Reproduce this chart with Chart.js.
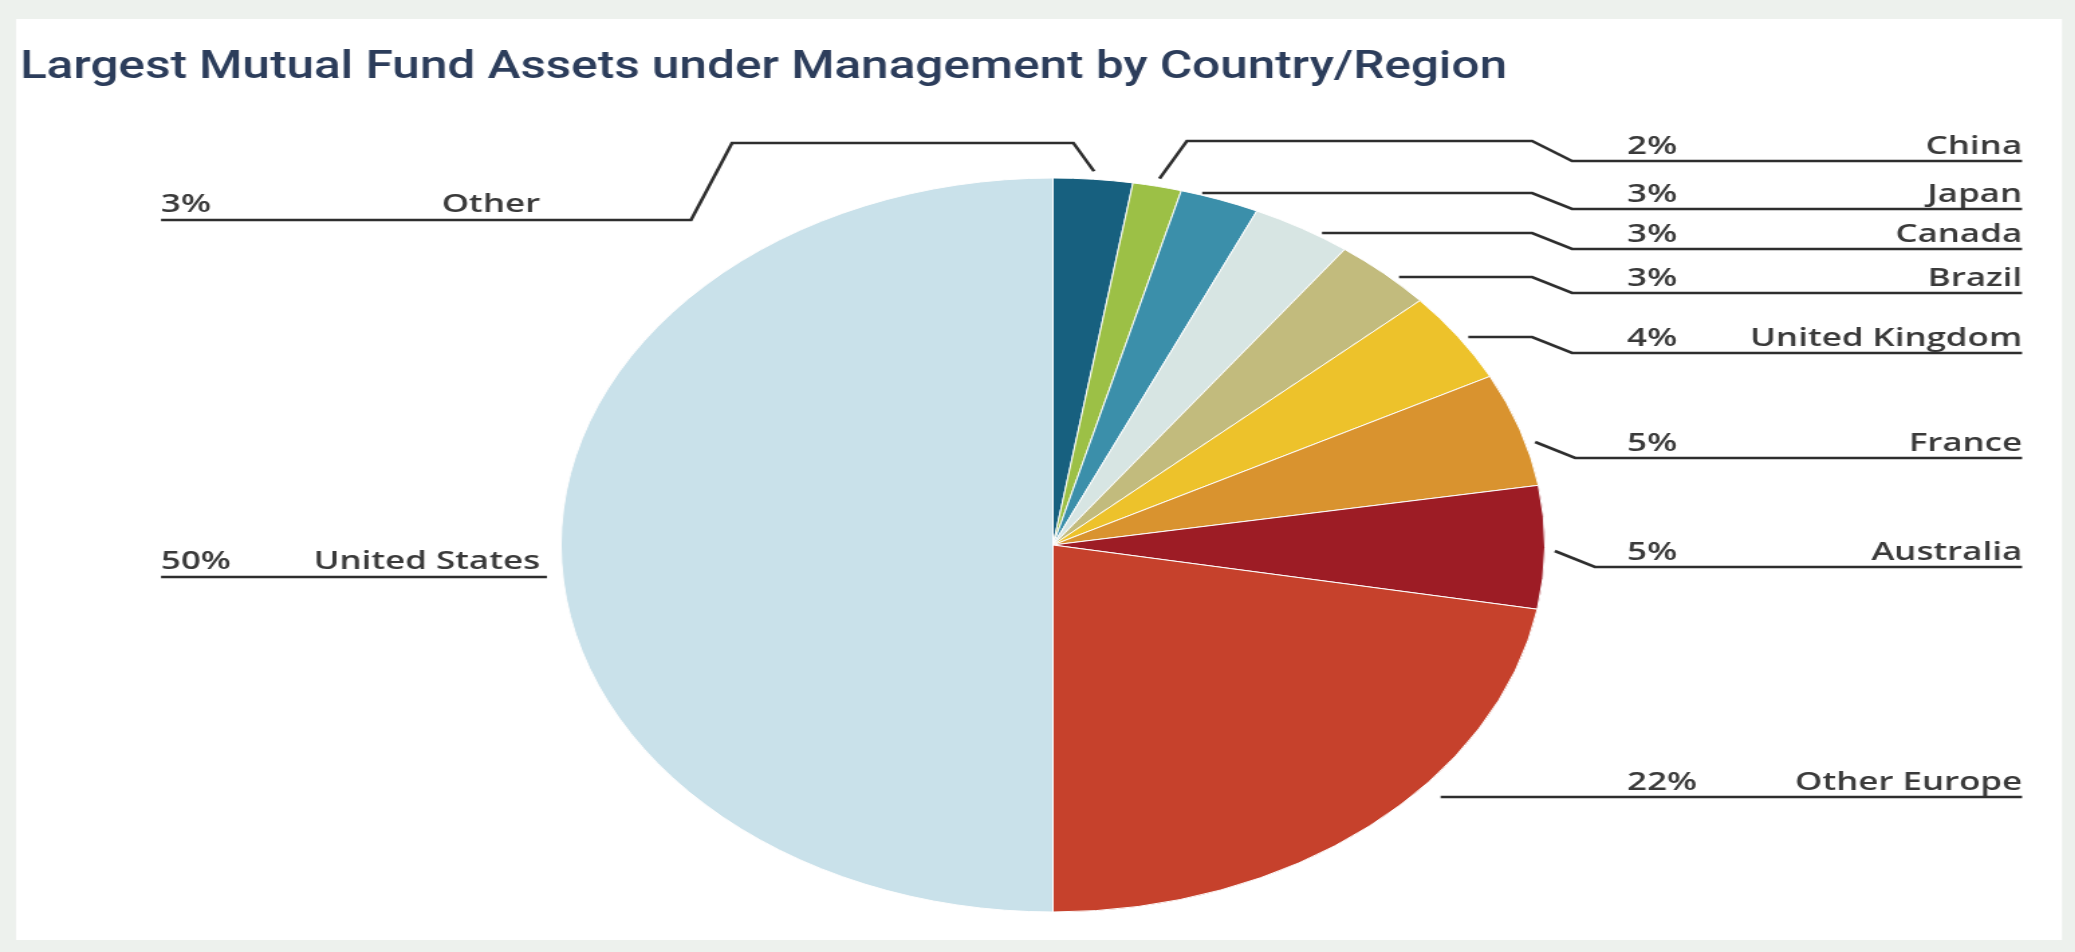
<!DOCTYPE html>
<html>
<head>
<meta charset="utf-8">
<script src="https://cdn.jsdelivr.net/npm/chart.js@4.4.1/dist/chart.umd.min.js"></script>
<style>
  html, body { margin: 0; padding: 0; overflow: hidden; background: #edf1ed; }
  /* the reference is stretched sideways, so the whole chart is drawn narrow and widened */
  #wrap { width: 1548px; height: 952px; transform: scaleX(1.3405); transform-origin: 0 0; }
</style>
</head>
<body>
<div id="wrap"><canvas id="pie" width="1548" height="952"></canvas></div>
<script>
const title = 'Largest Mutual Fund Assets under Management by Country/Region';

// slices, clockwise from 12 o'clock
const categories = ['Other', 'China', 'Japan', 'Canada', 'Brazil', 'United Kingdom', 'France', 'Australia', 'Other Europe', 'United States'];
const shares = [2.6, 1.6, 2.6, 3.3, 3.3, 4.0, 5.0, 5.4, 22.2, 50.0];
const pctLabels = ['3%', '2%', '3%', '3%', '3%', '4%', '5%', '5%', '22%', '50%'];
const sliceColors = ['#17607f', '#9cc046', '#3b8faa', '#d7e5e3', '#c2bb7d', '#edc22b', '#d9932f', '#9d1c25', '#c6412c', '#c9e1ea'];

// callout layout (page px, before the sideways stretch is undone)
const labelSide = ['left', 'right', 'right', 'right', 'right', 'right', 'right', 'right', 'right', 'left'];
const labelLineY = [220, 161, 209, 249, 293, 353, 458, 567, 797, 577];
const leaderRiseY = [143, 141, null, null, null, null, null, null, null, null];

const SX = 2075 / 1548;
const fx = v => v / SX;
const KNEE_R = 1572, KNEE_L = 691;

const calloutPlugin = {
    id: 'callouts',
    beforeDraw(chart) {
        const ctx = chart.ctx;
        ctx.save();
        ctx.fillStyle = '#edf1ed';
        ctx.fillRect(0, 0, chart.width, chart.height);
        ctx.fillStyle = '#ffffff';
        ctx.fillRect(fx(16), 19, fx(2062) - fx(16), 940 - 19);
        ctx.restore();
    },
    afterDraw(chart) {
        const ctx = chart.ctx;
        const arcs = chart.getDatasetMeta(0).data;
        const c = arcs[0].getProps(['x', 'y', 'outerRadius'], true);
        const cx = c.x, cy = c.y, r = c.outerRadius;
        const edgeX = (y, dir) => cx + dir * Math.sqrt(Math.max(r * r - (y - cy) * (y - cy), 0));

        ctx.save();
        // title
        ctx.fillStyle = '#2c3d5b';
        ctx.font = '500 38px Roboto';
        ctx.textBaseline = 'alphabetic';
        ctx.textAlign = 'left';
        ctx.fillText(title, fx(20), 78, fx(1507 - 20));

        ctx.strokeStyle = '#2e2e2e';
        ctx.lineWidth = 2.6;
        ctx.lineJoin = 'miter';
        ctx.font = '600 26px "Open Sans"';
        ctx.fillStyle = '#3a3a3a';

        arcs.forEach((arc, i) => {
            const p = arc.getProps(['startAngle', 'endAngle'], true);
            const a = (p.startAngle + p.endAngle) / 2;
            const S = [cx + Math.cos(a) * (r + 8), cy + Math.sin(a) * (r + 8)];
            const U = labelLineY[i];
            const H = leaderRiseY[i];
            let pts;
            if (labelSide[i] === 'right') {
                const endX = fx(2022);
                if (H != null) {
                    pts = [S, [S[0] + fx((S[1] - H) * 0.73), H], [fx(KNEE_R - 40), H], [fx(KNEE_R), U], [endX, U]];
                } else if (S[1] > U + 15) {
                    pts = [[edgeX(U, 1) + fx(30), U], [endX, U]];
                } else {
                    const h = U - 16;
                    const start = edgeX(h, 1) + fx(10);
                    const d0 = Math.max(start, fx(KNEE_R - 40));
                    pts = [[start, h], [d0, h], [d0 + fx(40), U], [endX, U]];
                }
                ctx.textAlign = 'left';
                ctx.fillText(pctLabels[i], fx(1627), U - 7);
                ctx.textAlign = 'right';
                ctx.fillText(categories[i], fx(2022), U - 7);
            } else {
                const endX = fx(161);
                if (H != null) {
                    pts = [S, [S[0] - fx((S[1] - H) * 0.73), H], [fx(KNEE_L + 41), H], [fx(KNEE_L), U], [endX, U]];
                } else {
                    pts = [[edgeX(U, -1) - fx(16), U], [endX, U]];
                }
                ctx.textAlign = 'left';
                ctx.fillText(pctLabels[i], fx(161), U - 8);
                ctx.textAlign = 'right';
                ctx.fillText(categories[i], fx(540), U - 8);
            }
            ctx.beginPath();
            pts.forEach((pt, k) => k ? ctx.lineTo(pt[0], pt[1]) : ctx.moveTo(pt[0], pt[1]));
            ctx.stroke();
        });
        ctx.restore();
    }
};

function build() {
    const canvas = document.getElementById('pie');
    new Chart(canvas.getContext('2d'), {
        type: 'pie',
        data: {
            labels: categories,
            datasets: [{
                data: shares,
                backgroundColor: sliceColors,
                borderColor: '#ffffff',
                borderWidth: 1
            }]
        },
        options: {
            responsive: false,
            animation: false,
            layout: {
                padding: { top: 177, bottom: 39, left: 418, right: 395 }
            },
            plugins: {
                legend: { display: false },
                tooltip: { enabled: false },
                title: { display: false }
            }
        },
        plugins: [calloutPlugin]
    });
}

Promise.all([
    document.fonts.load('600 26px "Open Sans"'),
    document.fonts.load('500 38px Roboto')
]).then(build, build);
</script>
</body>
</html>
